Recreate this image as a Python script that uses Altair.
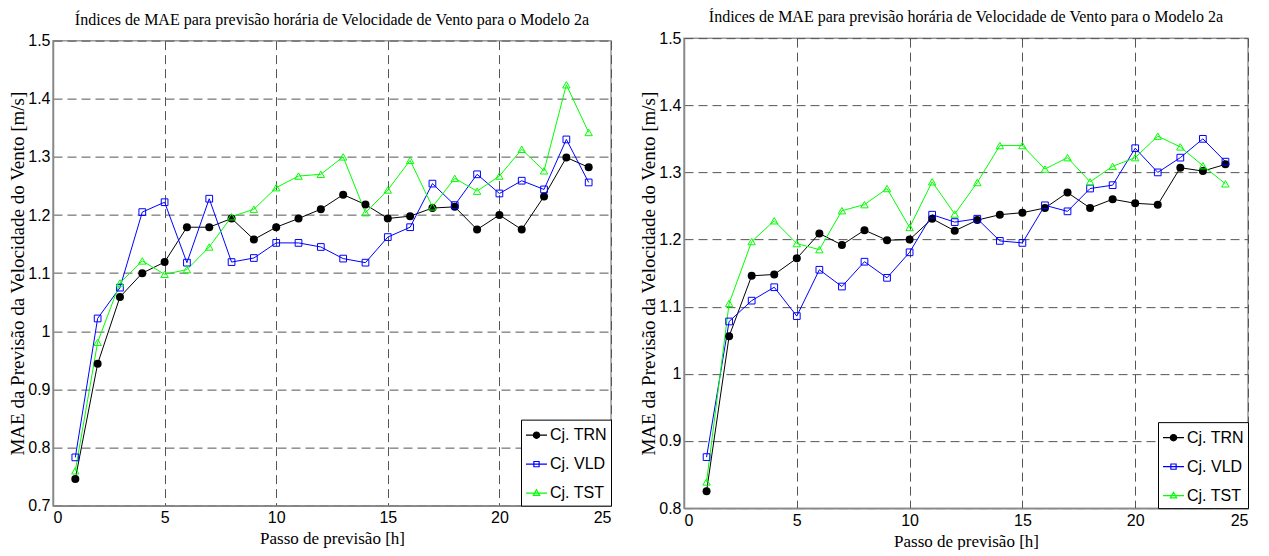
import altair as alt
import pandas as pd

hours = list(range(1, 25))
series_names = ["Cj. TRN", "Cj. VLD", "Cj. TST"]
series_colors = ["#000000", "#0000ff", "#00ff00"]

# Left panel values
trn_a = [0.746, 0.944, 1.059, 1.100, 1.119, 1.179, 1.179, 1.194, 1.158, 1.179, 1.194, 1.210,
         1.235, 1.218, 1.194, 1.198, 1.212, 1.214, 1.175, 1.200, 1.175, 1.232, 1.299, 1.282]
vld_a = [0.783, 1.022, 1.075, 1.205, 1.222, 1.118, 1.228, 1.119, 1.126, 1.152, 1.152, 1.145,
         1.125, 1.118, 1.162, 1.179, 1.254, 1.217, 1.270, 1.237, 1.259, 1.244, 1.330, 1.256]
tst_a = [0.760, 0.981, 1.083, 1.121, 1.098, 1.106, 1.145, 1.197, 1.210, 1.247, 1.267, 1.270,
         1.300, 1.204, 1.243, 1.294, 1.214, 1.263, 1.241, 1.267, 1.313, 1.276, 1.424, 1.342]

# Right panel values
trn_b = [0.825, 1.056, 1.146, 1.148, 1.172, 1.209, 1.192, 1.214, 1.199, 1.200, 1.231, 1.213,
         1.229, 1.237, 1.240, 1.247, 1.270, 1.247, 1.260, 1.254, 1.252, 1.307, 1.302, 1.312]
vld_b = [0.876, 1.078, 1.109, 1.129, 1.086, 1.155, 1.130, 1.167, 1.143, 1.181, 1.237, 1.226,
         1.231, 1.198, 1.195, 1.251, 1.242, 1.276, 1.281, 1.336, 1.300, 1.322, 1.350, 1.316]
tst_b = [0.839, 1.105, 1.197, 1.228, 1.194, 1.185, 1.243, 1.252, 1.276, 1.218, 1.286, 1.238,
         1.285, 1.340, 1.340, 1.305, 1.322, 1.286, 1.309, 1.322, 1.354, 1.338, 1.310, 1.283]

x_ticks = [0, 5, 10, 15, 20, 25]
y_ticks_a = [0.7, 0.8, 0.9, 1.0, 1.1, 1.2, 1.3, 1.4, 1.5]
y_ticks_b = [0.8, 0.9, 1.0, 1.1, 1.2, 1.3, 1.4, 1.5]

title_text = "Índices de MAE para previsão horária de Velocidade de Vento para o Modelo 2a"
x_title = "Passo de previsão [h]"
y_title = "MAE da Previsão da Velocidade do Vento  [m/s]"

marker_shapes = ["circle", "square", "triangle-up"]
marker_filled = [True, False, False]
marker_sizes = [64, 45, 55]

legend_paths = [
    "M-1,0H1M0.3,0A0.3,0.3 0 1,1 -0.3,0A0.3,0.3 0 1,1 0.3,0Z",
    "M-1,0H1M-0.25,-0.25H0.25V0.25H-0.25Z",
    "M-1,0H1M0,-0.32L0.3,0.22H-0.3Z",
]
legend_fills = ["#000000", "transparent", "transparent"]

SERIF = "Liberation Serif"
SANS = "Liberation Sans"


def panel(trn, vld, tst, y_ticks, w, h):
    rows = []
    for name, vals in zip(series_names, [trn, vld, tst]):
        for hr, v in zip(hours, vals):
            rows.append({"x": hr, "v": v, "s": name})
    df = pd.DataFrame(rows)
    base = alt.Chart(df)

    x = alt.X("x:Q", scale=alt.Scale(domain=[0, 25], nice=False, zero=False),
              axis=alt.Axis(values=x_ticks, title=x_title, format="d",
                            titleFont=SERIF, titleFontSize=17, titleFontWeight="normal"))
    y = alt.Y("v:Q", scale=alt.Scale(domain=[y_ticks[0], 1.5], nice=False, zero=False),
              axis=alt.Axis(values=y_ticks, title=y_title, format=".1~f",
                            titleFont=SERIF, titleFontSize=19, titleFontWeight="normal"))
    cscale = alt.Scale(domain=series_names, range=series_colors)

    leg = alt.Legend(orient="bottom-right", offset=0, title=None, padding=4, rowPadding=9,
                     labelFont=SANS, labelFontSize=16, labelColor="black",
                     symbolSize=441, symbolStrokeWidth=1.2, strokeColor="black",
                     fillColor="white", labelOffset=2, cornerRadius=0)
    color = alt.Color("s:N", scale=cscale, legend=leg)

    legend_layer = (
        base.transform_filter("datum.x < 0")
        .mark_point(size=441, strokeWidth=1.2, opacity=1)
        .encode(
            x=x, y=y,
            color=color,
            shape=alt.Shape("s:N", scale=alt.Scale(domain=series_names, range=legend_paths), legend=leg),
            fill=alt.Fill("s:N", scale=alt.Scale(domain=series_names, range=legend_fills), legend=leg),
        )
    )

    line = base.mark_line(strokeWidth=1).encode(x=x, y=y, color=color)

    layers = [legend_layer, line]
    for name, col, shp, fl, sz in zip(series_names, series_colors, marker_shapes,
                                      marker_filled, marker_sizes):
        layers.append(
            base.transform_filter(alt.datum.s == name)
            .mark_point(shape=shp, filled=fl, size=sz, strokeWidth=1, opacity=1, color=col)
            .encode(x=x, y=y)
        )

    return alt.layer(*layers).properties(
        width=w, height=h,
        title=alt.TitleParams(title_text, font=SERIF, fontSize=16,
                              fontWeight="normal", color="black", anchor="middle",
                              offset=5),
    )


left = panel(trn_a, vld_a, tst_a, y_ticks_a, 558, 465)
right = panel(trn_b, vld_b, tst_b, y_ticks_b, 564, 470)

chart = (
    alt.hconcat(left, right, spacing=26, center=True)
    .resolve_scale(color="independent", shape="independent", fill="independent")
    .resolve_legend(color="independent", shape="independent", fill="independent")
    .properties(padding={"left": 0, "top": 0, "right": 5, "bottom": 0})
    .configure_view(stroke="#999999", strokeWidth=1.5)
    .configure_axis(
        grid=True, gridDash=[9, 5], gridColor="#555555", gridWidth=1, gridOpacity=1,
        domainColor="#888888", domainWidth=1.5, ticks=False,
        labelFont=SANS, labelFontSize=16, labelColor="black", labelPadding=3,
        titleColor="black",
    )
    .configure_axisX(titlePadding=5, labelPadding=4)
    .configure_axisY(titlePadding=0)
)

chart.save("out.html", embed_options={"renderer": "svg", "actions": False})
